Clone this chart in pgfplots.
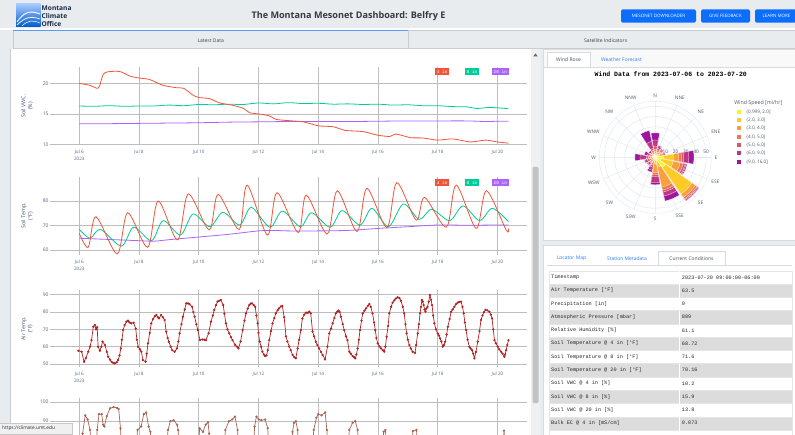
\documentclass[border=0pt]{standalone}
\usepackage{fontspec}
\setmainfont{Open Sans}
\setmonofont{Liberation Mono}
\usepackage{pgfplots}
\pgfplotsset{compat=1.18}
\usepgfplotslibrary{polar}
\usepackage{pgfplotstable}

\definecolor{hdr}{HTML}{E9ECEF}
\definecolor{bord}{HTML}{C8CDD2}
\definecolor{btn}{HTML}{0D6EFD}
\definecolor{linkc}{HTML}{2F7CF6}
\definecolor{tickc}{HTML}{506784}
\definecolor{labc}{HTML}{44587A}
\definecolor{gridc}{HTML}{BDBDBD}
\definecolor{cA}{HTML}{EF553B}
\definecolor{cB}{HTML}{00CC96}
\definecolor{cC}{HTML}{AB63FA}
\definecolor{airc}{HTML}{B22222}
\definecolor{rhc}{HTML}{A86452}
\definecolor{rosegrid}{HTML}{E4E8EE}
\definecolor{rosetxt}{HTML}{505a66}
\definecolor{wr1}{HTML}{F0F921}
\definecolor{wr2}{HTML}{FDCA26}
\definecolor{wr3}{HTML}{FB9F3A}
\definecolor{wr4}{HTML}{ED7953}
\definecolor{wr5}{HTML}{D8576B}
\definecolor{wr6}{HTML}{BD3786}
\definecolor{wr7}{HTML}{9C179E}
\definecolor{rowg}{HTML}{DCDCDC}

% wind rose: math angle, cumulative radius per speed bin
\pgfplotstableread{
ang b1 b2 b3 b4 b5 b6 b7
90 2 4 6 8 11 17 24
67.5 1 3 5 7 9 11 12
45 2 4 6 7 8 9 10
22.5 2 5 7 8 9 10 10
0 8 18 23 26 28 33 38
-22.5 6 18 25 28 30 31 32
-45 12 44 48 50 51 52 52.5
-67.5 4 10 30 33 35 39 44
-90 2 6 15 17 19 25 27
-112.5 1 3 6 8 10 13 15
-135 1 2 4 6 7 9 10
-157.5 1 2 4 6 8 10 11
180 1 3 5 7 9 15 20
157.5 1 2 3 5 6 8 11
135 1 2 3 4 5 6 8
112.5 2 3 5 7 9 16 27
}\windtbl

\pgfplotsset{
 dash/.style={
  scale only axis, width=477pt, xmin=5.02, xmax=20.99,
  axis line style={draw=none}, tick style={draw=none},
  grid=major, major grid style={draw=gridc, line width=0.6pt},
  xtick={6,8,...,20},
  xticklabels={{Jul 6\\2023},Jul 8,Jul 10,Jul 12,Jul 14,Jul 16,Jul 18,Jul 20},
  xticklabel style={align=center, font=\fontsize{4.6}{7}\selectfont, text=tickc, inner sep=2pt, yshift=-2.5pt},
  yticklabel style={font=\fontsize{5}{6}\selectfont, text=tickc, inner sep=1.2pt},
  /pgf/number format/assume math mode=true,
  every axis y label/.style={at={(axis description cs:-0.048,0.5)}, anchor=center, rotate=90, align=center, font=\fontsize{5.4}{6.6}\selectfont, text=labc},
 }
}

\begin{document}
\begin{tikzpicture}
\useasboundingbox (0,0) rectangle (795pt,-435pt);
\clip (0,0) rectangle (795pt,-435pt);
\begin{scope}[x=1pt,y=-1pt]
 \fill[hdr] (0,0) rectangle (795,435);
 % logo
 \shade[top color=cyan!40!blue!35, bottom color=blue!55!cyan!80!black] (16,4) rectangle (40.5,26.7);
 \draw[white, line width=0.9pt] (17,22) .. controls (24,12) and (30,10) .. (40,14);
 \draw[white, line width=0.7pt] (17,25) .. controls (25,17) and (31,16) .. (40,19);
 \draw[white, line width=0.5pt] (22,26) .. controls (28,20) and (33,20) .. (40,23);
 \node[anchor=west, font=\bfseries\fontsize{6.6}{7}\selectfont, text={rgb,255:red,25;green,40;blue,70}, inner sep=0] at (41.5,8.3) {Montana};
 \node[anchor=west, font=\bfseries\fontsize{6.6}{7}\selectfont, text={rgb,255:red,25;green,40;blue,70}, inner sep=0] at (41.5,15.9) {Climate};
 \node[anchor=west, font=\bfseries\fontsize{6.6}{7}\selectfont, text={rgb,255:red,25;green,40;blue,70}, inner sep=0] at (41.5,23.6) {Office};
 \node[font=\bfseries\fontsize{9.1}{10}\selectfont, text={rgb,255:red,52;green,58;blue,64}] at (348.5,16) {The Montana Mesonet Dashboard: Belfry E};
 % buttons
 \fill[btn, rounded corners=1.5pt] (621,9.3) rectangle (696,22.7);
 \fill[btn, rounded corners=1.5pt] (701,9.3) rectangle (750,22.7);
 \fill[btn, rounded corners=1.5pt] (755,9.3) rectangle (801,22.7);
 \node[text=white, font=\fontsize{4.5}{5}\selectfont] at (658.5,16) {MESONET DOWNLOADER};
 \node[text=white, font=\fontsize{4.5}{5}\selectfont] at (725.5,16) {GIVE FEEDBACK};
 \node[text=white, font=\fontsize{4.5}{5}\selectfont] at (776.5,16) {LEARN MORE};
 % tabs
 \fill[white] (0,28.5) rectangle (795,30);
 \draw[bord, fill=hdr] (13,30) rectangle (408,48.5);
 \draw[bord, fill=hdr] (408,30) rectangle (796,48.5);
 \draw[btn!70, line width=1.1pt] (13,30.3) -- (408,30.3);
 \node[font=\fontsize{5}{6}\selectfont, text={rgb,255:red,60;green,60;blue,60}] at (210.7,41) {Latest Data};
 \node[font=\fontsize{5}{6}\selectfont, text={rgb,255:red,60;green,60;blue,60}] at (605.7,41) {Satellite Indicators};
 % left panel
 \fill[white] (10,49) rectangle (531,435);
 \draw[bord, line width=1.2pt] (10.6,49) -- (10.6,435);
 \fill[white!94!black] (531,49) rectangle (540,435);
 \fill[white!76!black, rounded corners=1pt] (532.5,167) rectangle (538.5,403);
 \fill[white!40!black] (533.2,56.5) -- (535.5,53.5) -- (537.8,56.5) -- cycle;
 % right cards
 \draw[bord!70, fill=white] (543,49.5) rectangle (796,240);
 \fill[white!97.5!black] (543.5,50) rectangle (795,67);
 \draw[bord!70] (543,67) -- (796,67);
 \draw[bord!70, fill=white] (547,67) -- (547,52) -- (590,52) -- (590,67);
 \node[font=\fontsize{5}{6}\selectfont, text={rgb,255:red,73;green,80;blue,87}] at (568.5,60) {Wind Rose};
 \node[font=\fontsize{5}{6}\selectfont, text=linkc] at (621.5,60) {Weather Forecast};
 \node[font=\ttfamily\bfseries\fontsize{6.5}{7}\selectfont] at (670.8,74.3) {Wind Data from 2023-07-06 to 2023-07-20};
 % wind legend
 \node[font=\fontsize{5.3}{6}\selectfont, text=rosetxt] at (758.3,103.3) {Wind Speed [mi/hr]};
 \foreach \c/\t/\yy in {wr1/{(0.999, 2.0]}/111.7, wr2/{(2.0, 3.0]}/120, wr3/{(3.0, 4.0]}/128.3, wr4/{(4.0, 5.0]}/136.7, wr5/{(5.0, 6.0]}/145, wr6/{(6.0, 9.0]}/153.3, wr7/{(9.0, 16.0]}/161.7}{
  \fill[\c] (736.7,\yy-2) rectangle (740.7,\yy+2);
  \node[anchor=west, inner sep=0, font=\fontsize{4.7}{5}\selectfont, text=rosetxt] at (746.5,\yy) {\t};
 }
 % lower card
 \draw[bord!70, fill=white] (543,245.5) rectangle (796,436);
 \draw[bord!70] (547,265) -- (792,265);
 \draw[bord!70, fill=white] (658,265) -- (658,251) -- (725,251) -- (725,265);
 \node[font=\fontsize{5}{6}\selectfont, text=linkc] at (571.5,258.3) {Locator Map};
 \node[font=\fontsize{5}{6}\selectfont, text=linkc] at (627,258.3) {Station Metadata};
 \node[font=\fontsize{5}{6}\selectfont, text={rgb,255:red,73;green,80;blue,87}] at (691.5,258.3) {Current Conditions};
 \foreach \i/\a/\b in {0/Timestamp/2023-07-20 09:00:00-06:00,
   1/Air Temperature [°F]/63.5,
   2/Precipitation [in]/0,
   3/Atmospheric Pressure [mbar]/889,
   4/Relative Humidity [\%]/61.1,
   5/Soil Temperature @ 4 in [°F]/68.72,
   6/Soil Temperature @ 8 in [°F]/71.6,
   7/Soil Temperature @ 20 in [°F]/70.16,
   8/Soil VWC @ 4 in [\%]/10.2,
   9/Soil VWC @ 8 in [\%]/15.9,
   10/Soil VWC @ 20 in [\%]/13.8,
   11/{Bulk EC @ 4 in [mS/cm]}/0.073,
   12/{}/{}}{
  \pgfmathsetmacro\yt{270.7+\i*13.27}
  \pgfmathtruncatemacro\odd{mod(\i,2)}
  \ifnum\odd=1 \fill[rowg] (549,\yt) rectangle (792,\yt+13.27); \fi
  \draw[white!90!black, line width=0.3pt] (549,\yt) rectangle (792,\yt+13.27);
  \draw[white, line width=0.7pt] (679.5,\yt) -- (679.5,\yt+13.27);
  \node[anchor=west, inner sep=0, font=\ttfamily\fontsize{5.2}{6}\selectfont, text={rgb,255:red,40;green,40;blue,40}] at (551,\yt+6.6) {\a};
  \node[anchor=west, inner sep=0, font=\ttfamily\fontsize{5.2}{6}\selectfont, text={rgb,255:red,40;green,40;blue,40}] at (681.7,\yt+6.6) {\b};
 }
\end{scope}

% ---------------- Soil VWC
\begin{axis}[dash, at={(50pt,-145pt)}, anchor=south west, height=78pt,
  ymin=9.9, ymax=22.7, ytick={10,15,20}, ylabel={Soil VWC.\\(\%)}]
\addplot[cC, line width=0.8pt, smooth] coordinates {(6.0,13.4) (7.0,13.4) (8.0,13.45) (9.0,13.5) (10.0,13.55) (11.0,13.65) (12.0,13.7) (13.0,13.75) (14.0,13.75) (15.0,13.75) (16.0,13.8) (17.0,13.85) (18.0,13.85) (19.0,13.85) (19.6,13.75) (20.0,13.8) (20.37,13.8)};
\addplot[cB, line width=0.8pt, smooth] coordinates {(6.0,16.3) (6.5,16.25) (7.0,16.35) (7.5,16.25) (8.0,16.3) (8.5,16.3) (9.0,16.45) (9.5,16.35) (10.0,16.55) (10.5,16.5) (11.0,16.6) (11.5,16.55) (12.0,16.8) (12.5,16.65) (13.0,16.85) (13.5,16.7) (14.0,16.75) (14.5,16.6) (15.0,16.65) (15.5,16.55) (16.0,16.6) (16.5,16.45) (17.0,16.5) (17.5,16.35) (18.0,16.35) (18.5,16.2) (19.0,16.15) (19.3,15.9) (19.7,16.05) (20.0,16.0) (20.37,15.85)};
\addplot[cA, line width=0.8pt, smooth, tension=0.4] coordinates {(6.00,20.0) (6.35,19.7) (6.60,19.2) (6.68,19.6) (6.80,21.5) (6.95,21.9) (7.2,22.0) (7.4,21.9) (7.7,21.2) (8.0,20.9) (8.35,20.65) (8.8,19.7) (9.25,19.3) (9.5,19.2) (9.8,18.1) (10.0,17.7) (10.37,17.5) (10.7,16.8) (11.15,16.4) (11.5,15.9) (11.7,15.2) (12.0,15.0) (12.35,14.7) (12.6,14.1) (13.0,13.9) (13.5,13.7) (14.0,13.05) (14.5,12.9) (14.9,12.3) (15.5,12.1) (16.0,11.5) (16.4,11.3) (16.6,11.7) (17.1,11.1) (17.5,11.05) (18.0,10.7) (18.5,10.9) (19.1,10.4) (19.6,10.7) (20.0,10.4) (20.37,10.2)};
\end{axis}

% ---------------- Soil Temp
\begin{axis}[dash, at={(50pt,-255pt)}, anchor=south west, height=78pt,
  ymin=57.96, ymax=89.8, ytick={60,70,80}, ylabel={Soil Temp.\\(°F)}]
\addplot[cC, line width=0.8pt, smooth] coordinates {(6,64.8) (7,64.3) (8,63.8) (8.5,63.6) (9,64.2) (10,65.3) (11,66.4) (12,67.8) (12.5,68) (13,67.8) (14,67.8) (15,68) (16,68.8) (17,69.5) (18,70.2) (19,70.1) (20,70.2) (20.37,70.16)};
\addplot[cB, line width=0.8pt, smooth] coordinates {(6.0,68.4) (6.36,64.8) (6.71,68.4) (7.41,61.6) (7.82,69.3) (8.42,63.8) (8.81,72) (9.39,66.1) (9.81,74.7) (10.37,69.5) (10.81,75.4) (11.37,70.2) (11.76,77.4) (12.38,69.3) (12.8,75.9) (13.4,69.5) (13.78,75.2) (14.4,69.3) (14.8,76.1) (15.4,70.2) (15.8,77) (16.35,69.5) (16.85,78.8) (17.38,72.5) (17.8,76.6) (18.4,72) (18.85,78) (19.4,72) (19.83,77) (20.37,71.6)};
\addplot[cA, line width=0.8pt, smooth] coordinates {(6.00,66.8) (6.30,61.1) (6.56,73.6) (7.27,58.4) (7.62,75.2) (8.29,61.1) (8.64,80) (9.29,64.1) (9.65,82.9) (10.35,68.2) (10.65,82.7) (11.35,68.4) (11.62,86.5) (12.30,66.1) (12.62,83.4) (13.33,67.1) (13.6,82.4) (14.3,66.5) (14.64,84.2) (15.3,67.5) (15.63,85.2) (16.3,69.1) (16.63,87.5) (17.28,72.2) (17.56,81.5) (18.29,69.3) (18.62,86.5) (19.29,68.8) (19.63,84.2) (20.29,68.2) (20.37,68.7)};
\end{axis}

% ---------------- Air Temp
\begin{axis}[dash, at={(50pt,-367.5pt)}, anchor=south west, height=77.5pt,
  ymin=48, ymax=92.7, ytick={50,60,70,80,90}, ylabel={Air Temp.\\(°F)}]
\addplot[airc, line width=0.7pt, mark=*, mark size=0.75pt, mark options={fill=airc}] coordinates {
(5.97,57.7) (6.08,57.1) (6.16,51.3) (6.22,53.5) (6.30,57.1) (6.36,60) (6.41,63.8) (6.47,71.5) (6.52,72.5) (6.56,70) (6.60,71.2) (6.63,60) (6.69,57.7) (6.74,60) (6.78,62.9) (6.86,61) (6.92,57) (6.97,54.2) (7.03,52.5) (7.08,51.3) (7.14,50.6) (7.19,50.4) (7.25,51) (7.30,52.3) (7.35,55) (7.39,59) (7.43,64) (7.47,69.6) (7.52,72.5) (7.58,74.4) (7.63,75) (7.68,74) (7.74,73.5) (7.82,73.8) (7.89,70.4) (7.93,64) (7.97,60) (8.03,58.5) (8.08,57.1) (8.13,52.3) (8.22,51.3) (8.26,56) (8.30,61.9) (8.36,68) (8.41,73.5) (8.47,76) (8.53,77.5) (8.58,78.3) (8.63,77) (8.67,76.3) (8.74,78.3) (8.80,77) (8.86,75.4) (8.91,68.7) (8.96,65) (9.00,62.9) (9.06,60) (9.11,58) (9.19,57.1) (9.27,59) (9.32,63) (9.36,67.7) (9.42,73) (9.47,77.3) (9.53,81.5) (9.58,85) (9.64,85) (9.69,84.6) (9.78,83) (9.82,80) (9.86,77.3) (9.92,73) (9.97,69.6) (10.04,63.8) (10.13,64.2) (10.19,64) (10.24,63.8) (10.33,67.7) (10.41,74.4) (10.47,78) (10.52,81.2) (10.58,84) (10.63,86) (10.68,86.5) (10.74,86.9) (10.82,84) (10.86,79) (10.91,73.5) (10.96,70) (11.02,67.7) (11.08,65.5) (11.13,63.8) (11.22,61) (11.28,60) (11.33,59) (11.40,63) (11.47,69.6) (11.53,75) (11.58,79.2) (11.64,82) (11.69,84) (11.74,84.8) (11.78,85) (11.84,84) (11.89,83) (11.93,78) (11.97,73.5) (12.00,68) (12.04,62.9) (12.09,60) (12.13,57.1) (12.18,55.5) (12.22,54.6) (12.27,55) (12.31,58) (12.36,63.8) (12.42,69) (12.47,73.5) (12.53,76.5) (12.58,79.2) (12.64,81) (12.69,82.1) (12.75,83.2) (12.80,83.5) (12.86,77) (12.92,66) (12.97,63) (13.03,60) (13.08,58) (13.14,55.2) (13.20,54) (13.25,53.3) (13.31,59) (13.36,64) (13.42,69.6) (13.47,76.3) (13.53,78.5) (13.59,79.6) (13.65,79.5) (13.70,80.2) (13.75,79.2) (13.81,68.7) (13.86,66) (13.92,62.9) (13.97,61) (14.03,59) (14.09,57) (14.15,55.2) (14.23,52.7) (14.31,60) (14.37,67.7) (14.43,70.5) (14.48,73.5) (14.54,76.5) (14.59,79.2) (14.64,80.3) (14.68,80.8) (14.72,80) (14.76,77.3) (14.82,73) (14.87,69.6) (14.93,66) (14.98,63.8) (15.04,57.1) (15.09,56) (15.15,54.6) (15.20,54) (15.24,53.3) (15.28,55.5) (15.32,59) (15.36,64) (15.40,69.6) (15.45,75) (15.49,79.2) (15.55,80.8) (15.60,82.1) (15.66,83.5) (15.71,84.6) (15.76,83) (15.82,79.2) (15.87,74) (15.91,69.6) (15.95,65) (15.99,61.9) (16.05,60.2) (16.10,59) (16.16,58) (16.21,57.1) (16.25,60) (16.29,65.8) (16.34,72) (16.38,79.2) (16.44,83) (16.49,85.4) (16.55,86.8) (16.60,87.8) (16.66,88.5) (16.72,88) (16.77,86.5) (16.83,83) (16.88,79.2) (16.92,73) (16.96,67.7) (17.00,64) (17.05,61) (17.10,59) (17.16,57.1) (17.24,56.5) (17.28,61) (17.33,67.7) (17.37,73) (17.41,79.2) (17.44,83) (17.47,86.9) (17.50,86) (17.53,84) (17.56,81.5) (17.59,80.2) (17.62,82) (17.66,83) (17.70,86) (17.74,89.8) (17.78,87) (17.81,84) (17.85,78) (17.89,73.5) (17.94,70) (18.00,67.7) (18.04,66.5) (18.08,64.8) (18.12,63) (18.17,60) (18.21,61) (18.25,62.9) (18.30,67) (18.34,71.5) (18.40,76) (18.45,80.2) (18.50,81.5) (18.56,83) (18.61,84.5) (18.67,85.4) (18.72,85.8) (18.78,86) (18.83,83) (18.87,79.2) (18.91,74) (18.95,69.6) (19.00,64) (19.06,60) (19.10,59) (19.15,58) (19.19,56) (19.23,53.3) (19.28,57) (19.34,62.9) (19.40,69) (19.45,75.4) (19.50,78) (19.55,80) (19.60,81.2) (19.66,81) (19.73,80.2) (19.78,78.5) (19.82,76.3) (19.86,70) (19.90,63.8) (19.95,62) (20.01,60) (20.06,58.5) (20.12,57.1) (20.17,56) (20.23,54.2) (20.26,55.5) (20.29,58) (20.33,61) (20.37,63.8)};
\end{axis}

% ---------------- Relative humidity (cut off)
\begin{axis}[dash, at={(50pt,-482pt)}, anchor=south west, height=84pt,
  ymin=57.9, ymax=102.1, ytick={90,100}, xticklabels={}]
\addplot[rhc, line width=0.7pt, mark=*, mark size=0.75pt, mark options={fill=rhc}] coordinates {
(6.00,60) (6.05,70) (6.11,83.4) (6.20,93) (6.28,90.8) (6.36,85.3) (6.45,65) (6.52,65) (6.60,85.3) (6.66,93.6) (6.75,93.6) (6.80,88) (6.84,87.1) (6.92,92.6) (7.03,96.7) (7.15,97.3) (7.26,96.9) (7.32,96.3) (7.38,86.2) (7.45,65) (7.88,65) (7.95,85.3) (8.07,87.1) (8.16,93.6) (8.24,94.5) (8.32,87.1) (8.38,84.3) (8.45,65) (8.90,65) (8.97,85.3) (9.05,89.9) (9.16,90.4) (9.28,88) (9.31,85.3) (9.38,65) (9.95,65) (10.03,86.2) (10.14,84.3) (10.23,88) (10.31,89.3) (10.35,83.4) (10.42,65) (10.82,65) (10.89,85.3) (11.01,89.9) (11.12,90.8) (11.21,92.3) (11.30,85.3) (11.37,65) (11.80,65) (11.87,87.1) (11.93,92.3) (12.01,90.8) (12.10,90.4) (12.22,90.8) (12.31,86.2) (12.38,65) (13.08,65) (13.14,84.3) (13.19,89) (13.25,89.9) (13.31,85.3) (13.38,65) (13.78,65) (13.85,85.3) (13.94,91.7) (14.00,93.6) (14.11,93) (14.23,94.5) (14.29,85.3) (14.36,65) (14.97,65) (15.04,85.3) (15.15,89) (15.24,89.9) (15.32,85.3) (15.40,65) (16.12,65) (16.19,84.3) (16.25,85.3) (16.32,65) (17.10,65) (17.17,84.7) (17.29,85.3) (17.36,65) (20.15,65) (20.22,84.9) (20.30,70)};
\end{axis}

% ---------------- Wind rose
\begin{polaraxis}[at={(655.3pt,-157.3pt)}, anchor=center,
  scale only axis, width=112pt, height=112pt,
  ymin=0, ymax=55, ytick={10,20,30,40,50},
  xtick={0,22.5,45,67.5,90,112.5,135,157.5,180,202.5,225,247.5,270,292.5,315,337.5},
  xticklabels={E,ENE,NE,NNE,N,NNW,NW,WNW,W,WSW,SW,SSW,S,SSE,SE,ESE},
  grid=major, major grid style={draw=rosegrid, line width=0.5pt},
  axis line style={draw=rosegrid}, tick style={draw=none},
  xticklabel style={font=\fontsize{4.8}{5}\selectfont, text=rosetxt},
  yticklabel style={font=\fontsize{4.8}{5}\selectfont, text=rosetxt},
  /pgf/number format/assume math mode=true]
\pgfplotsforeachungrouped \k in {7,6,5,4,3,2,1}{%
 \pgfplotsforeachungrouped \i in {0,...,15}{%
  \pgfplotstablegetelem{\i}{ang}\of\windtbl \edef\A{\pgfplotsretval}%
  \pgfplotstablegetelem{\i}{b\k}\of\windtbl \edef\R{\pgfplotsretval}%
  \pgfmathsetmacro\Aa{\A-10.1}%
  \pgfmathsetmacro\Ab{\A-5}%
  \pgfmathsetmacro\Ac{\A+5}%
  \pgfmathsetmacro\Ad{\A+10.1}%
  \edef\tmp{\noexpand\addplot[draw=white, line width=0.25pt, fill=wr\k] coordinates {(0,0) (\Aa,\R) (\Ab,\R) (\A,\R) (\Ac,\R) (\Ad,\R) (0,0)};}%
  \tmp
 }%
}
\end{polaraxis}

% ---------------- overlays
\begin{scope}[x=1pt,y=-1pt]
 \foreach \yy in {71.7,182.7}{
  \fill[cA] (435,\yy-3.4) rectangle (449.3,\yy+3.4);
  \fill[cB] (465,\yy-3.4) rectangle (479,\yy+3.4);
  \fill[cC] (491.7,\yy-3.4) rectangle (509,\yy+3.4);
  \node[text=white, font=\ttfamily\fontsize{4.4}{5}\selectfont, inner sep=0] at (442.2,\yy) {4 in};
  \node[text=white, font=\ttfamily\fontsize{4.4}{5}\selectfont, inner sep=0] at (472,\yy) {8 in};
  \node[text=white, font=\ttfamily\fontsize{4.4}{5}\selectfont, inner sep=0] at (500.3,\yy) {20 in};
 }
 \draw[white!78!black, fill=white!94!black] (-1,423) rectangle (72,434);
 \node[anchor=west, inner sep=0, font=\fontsize{4.8}{5}\selectfont, text={rgb,255:red,40;green,40;blue,40}] at (2,428.5) {https://climate.umt.edu};
\end{scope}
\end{tikzpicture}
\end{document}
